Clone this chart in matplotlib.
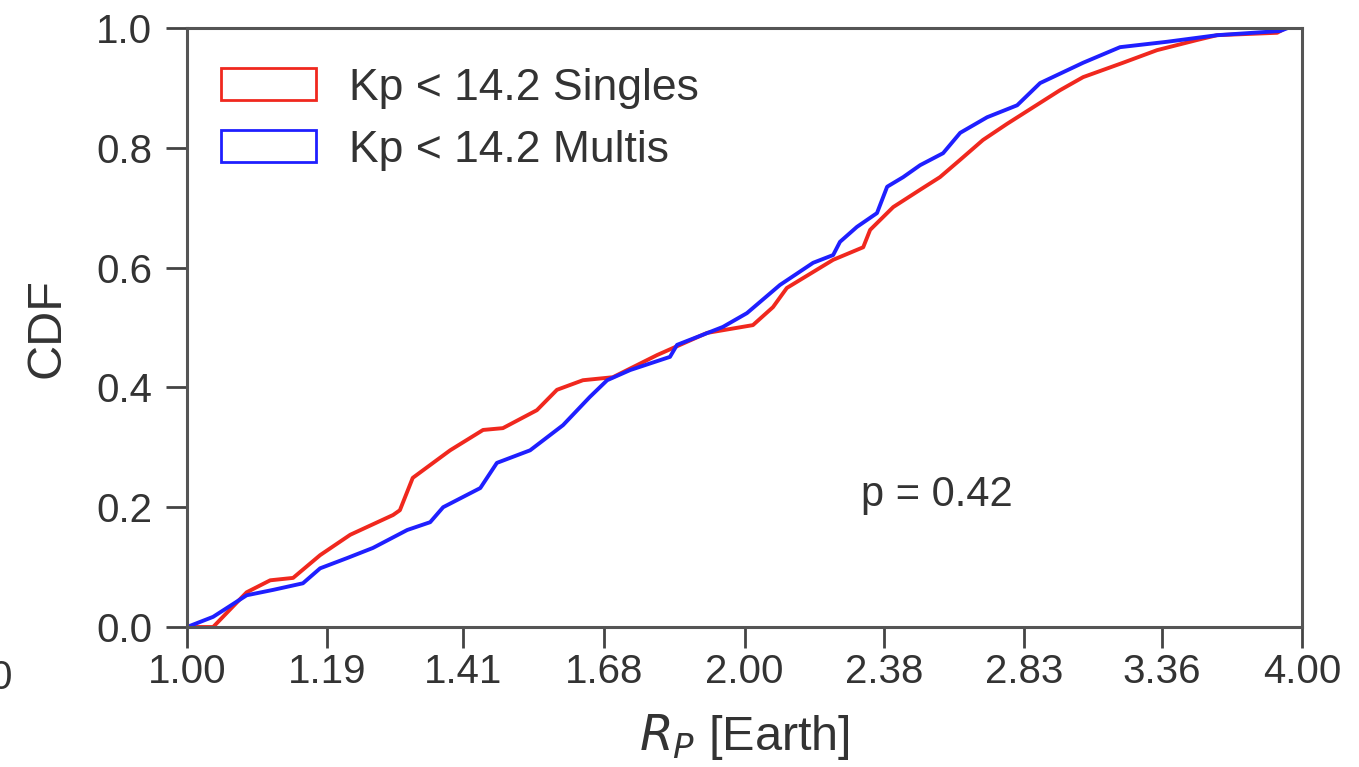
import numpy as np
import matplotlib
matplotlib.use("Agg")
import matplotlib.pyplot as plt
from matplotlib.patches import Patch
from matplotlib.ticker import FixedLocator, NullLocator

plt.rcParams['font.family'] = ['Liberation Sans', 'DejaVu Sans']

# singles CDF (Rp, cumulative fraction)
singles_rp = [1.00, 1.033, 1.077, 1.109, 1.141, 1.180, 1.225, 1.292, 1.303, 1.324,
              1.387, 1.445, 1.481, 1.545, 1.584, 1.636, 1.698, 1.794, 1.909, 2.021,
              2.072, 2.108, 2.233, 2.318, 2.338, 2.406, 2.488, 2.550, 2.615, 2.690,
              2.772, 2.960, 3.047, 3.202, 3.340, 3.511, 3.599, 3.878, 3.92]
singles_cdf = [0.0, 0.0, 0.058, 0.078, 0.082, 0.120, 0.154, 0.187, 0.195, 0.249,
               0.295, 0.329, 0.332, 0.362, 0.396, 0.412, 0.417, 0.454, 0.491, 0.504,
               0.534, 0.566, 0.613, 0.634, 0.663, 0.701, 0.730, 0.751, 0.780, 0.813,
               0.840, 0.896, 0.918, 0.942, 0.963, 0.980, 0.988, 0.992, 1.0]

# multis CDF
multis_rp = [1.00, 1.033, 1.077, 1.113, 1.155, 1.180, 1.220, 1.260, 1.315, 1.353,
             1.375, 1.440, 1.470, 1.532, 1.596, 1.650, 1.686, 1.735, 1.823, 1.839,
             1.947, 2.006, 2.090, 2.178, 2.233, 2.252, 2.300, 2.358, 2.388, 2.436,
             2.488, 2.560, 2.615, 2.704, 2.807, 2.888, 3.047, 3.190, 3.382, 3.599,
             3.892, 3.93]
multis_cdf = [0.0, 0.017, 0.053, 0.062, 0.073, 0.098, 0.115, 0.132, 0.162, 0.175,
              0.200, 0.232, 0.274, 0.295, 0.337, 0.384, 0.412, 0.429, 0.451, 0.471,
              0.501, 0.524, 0.571, 0.608, 0.621, 0.643, 0.668, 0.691, 0.735, 0.751,
              0.771, 0.791, 0.825, 0.851, 0.871, 0.908, 0.942, 0.968, 0.977, 0.988,
              0.995, 1.0]

xticks = [1.00, 1.19, 1.41, 1.68, 2.00, 2.38, 2.83, 3.36, 4.00]
yticks = [0.0, 0.2, 0.4, 0.6, 0.8, 1.0]

red = '#f0281e'
blue = '#1f1fff'
grey = '#333333'

fig = plt.figure(figsize=(13.59, 7.67), dpi=100)
ax = fig.add_axes([0.1376, 0.1825, 0.8205, 0.781])

ax.plot(singles_rp, singles_cdf, color=red, lw=2.8)
ax.plot(multis_rp, multis_cdf, color=blue, lw=2.8)

ax.set_xscale('log')
ax.set_xlim(1.0, 4.0)
ax.set_ylim(0.0, 1.0)
ax.xaxis.set_major_locator(FixedLocator(xticks))
ax.xaxis.set_minor_locator(NullLocator())
ax.set_xticklabels(['%.2f' % t for t in xticks])
ax.set_yticks(yticks)
ax.set_yticklabels(['%.1f' % t for t in yticks])

ax.tick_params(direction='out', length=15, width=2, colors='#444444',
               labelsize=29, labelcolor=grey)
ax.tick_params(axis='x', pad=4)
ax.tick_params(axis='y', pad=10)
for s in ax.spines.values():
    s.set_color('#555555')
    s.set_linewidth(2.2)

ax.set_xlabel(r'$R_P$ [Earth]', fontsize=35, color=grey, labelpad=15)
ax.set_ylabel('CDF', fontsize=35, color=grey, labelpad=19)

handles = [Patch(facecolor='none', edgecolor=red, lw=2, label='Kp < 14.2 Singles'),
           Patch(facecolor='none', edgecolor=blue, lw=2, label='Kp < 14.2 Multis')]
leg = ax.legend(handles=handles, loc='upper left', bbox_to_anchor=(0.0143, 0.9633),
                frameon=False, fontsize=32,
                handlelength=2.14, handleheight=0.72, handletextpad=0.74,
                labelspacing=0.47, borderaxespad=0.0, labelcolor=grey)

ax.text(2.54, 0.22, 'p = 0.42', fontsize=30, color=grey, ha='center', va='center')

# stray clipped label at the left edge
fig.text(-0.008, 0.116, '0', fontsize=29, color=grey, ha='left', va='center')

fig.savefig('out.png', dpi=100)
